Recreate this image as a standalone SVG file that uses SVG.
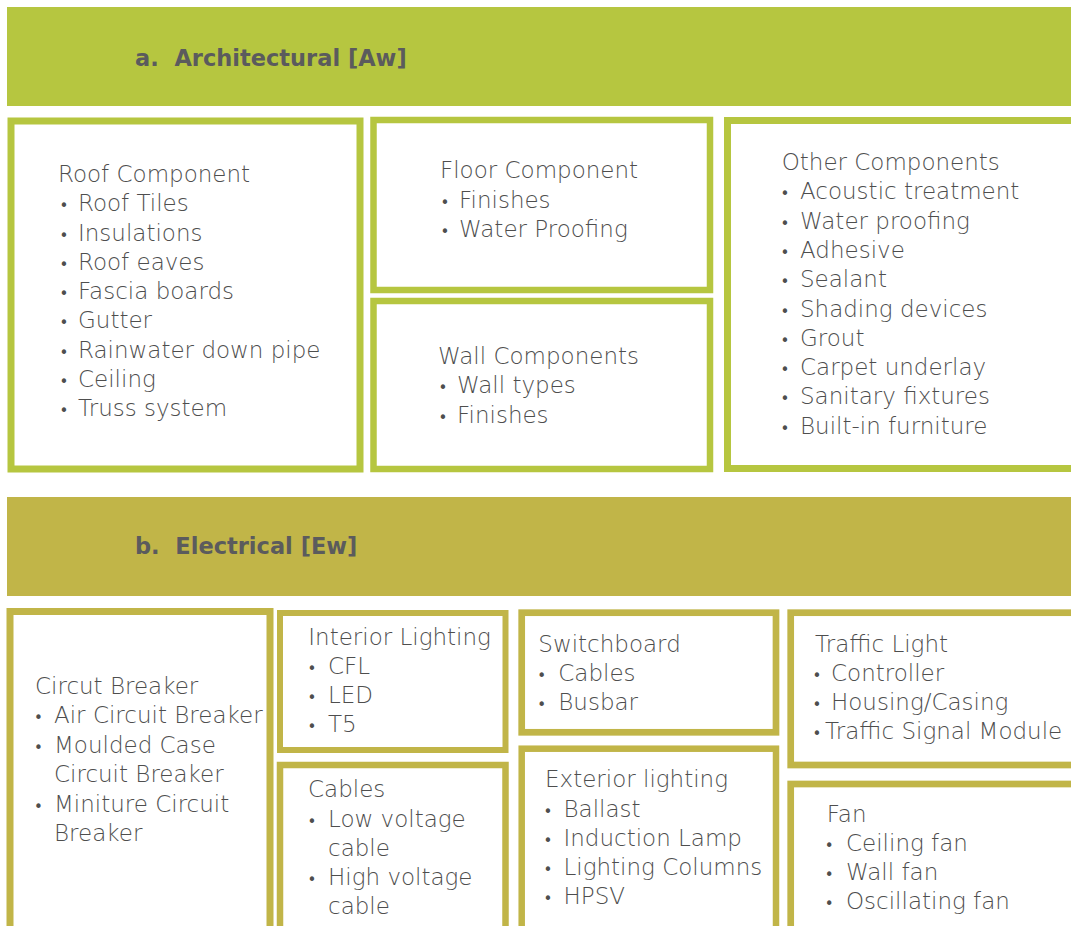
<svg xmlns="http://www.w3.org/2000/svg" width="1071" height="926" viewBox="0 0 1071 926">
<style>
.bg{fill:#ffffff}
.hdrA{fill:#b6c640}
.hdrE{fill:#c1b548}
.boxA{fill:#ffffff;stroke:#b6c640}
.boxE{fill:#ffffff;stroke:#c1b548}
.ht{font-family:"DejaVu Sans","Liberation Sans",sans-serif;font-weight:bold;font-size:22.5px;fill:#5b5b5d}
.t{font-family:"DejaVu Sans","Liberation Sans",sans-serif;font-weight:300;font-size:23px;fill:#4e4e4e}
.b{font-size:15px;font-weight:400}
</style>
<rect class="bg" x="0" y="0" width="1071" height="926"/>
<g id="connectors"></g>

<g id="header-architectural">
<rect class="hdrA" x="7" y="7" width="1080" height="99"/>
<text class="ht" x="135" y="66" xml:space="preserve">a.  Architectural [Aw]</text>
</g>

<g id="roof-component">
<rect class="boxA" x="11" y="121" width="349" height="348" stroke-width="7"/>
<text class="t" x="58" y="182">Roof Component</text>
<text class="t"><tspan class="b" x="59.5" y="211.3">•</tspan><tspan x="78" y="211.3">Roof Tiles</tspan></text>
<text class="t"><tspan class="b" x="59.5" y="240.5">•</tspan><tspan x="78" y="240.5">Insulations</tspan></text>
<text class="t"><tspan class="b" x="59.5" y="269.8">•</tspan><tspan x="78" y="269.8">Roof eaves</tspan></text>
<text class="t"><tspan class="b" x="59.5" y="299">•</tspan><tspan x="78" y="299">Fascia boards</tspan></text>
<text class="t"><tspan class="b" x="59.5" y="328.3">•</tspan><tspan x="78" y="328.3">Gutter</tspan></text>
<text class="t"><tspan class="b" x="59.5" y="357.5">•</tspan><tspan x="78" y="357.5">Rainwater down pipe</tspan></text>
<text class="t"><tspan class="b" x="59.5" y="386.8">•</tspan><tspan x="78" y="386.8">Ceiling</tspan></text>
<text class="t"><tspan class="b" x="59.5" y="416">•</tspan><tspan x="78" y="416">Truss system</tspan></text>
</g>

<g id="floor-component">
<rect class="boxA" x="373.5" y="120" width="336.5" height="170" stroke-width="6.5"/>
<text class="t" x="440" y="178">Floor Component</text>
<text class="t"><tspan class="b" x="440.5" y="207.5">•</tspan><tspan x="459" y="207.5">Finishes</tspan></text>
<text class="t"><tspan class="b" x="440.5" y="236.7">•</tspan><tspan x="459" y="236.7">Water Proofing</tspan></text>
</g>

<g id="wall-components">
<rect class="boxA" x="373.5" y="301" width="336.5" height="168" stroke-width="6.5"/>
<text class="t" x="438" y="364">Wall Components</text>
<text class="t"><tspan class="b" x="438.5" y="393.3">•</tspan><tspan x="457" y="393.3">Wall types</tspan></text>
<text class="t"><tspan class="b" x="438.5" y="422.5">•</tspan><tspan x="457" y="422.5">Finishes</tspan></text>
</g>

<g id="other-components">
<rect class="boxA" x="727.5" y="120.5" width="400" height="348" stroke-width="7"/>
<text class="t" x="781.7" y="170">Other Components</text>
<text class="t"><tspan class="b" x="780.5" y="199.3">•</tspan><tspan x="800" y="199.3">Acoustic treatment</tspan></text>
<text class="t"><tspan class="b" x="780.5" y="228.6">•</tspan><tspan x="800" y="228.6">Water proofing</tspan></text>
<text class="t"><tspan class="b" x="780.5" y="257.9">•</tspan><tspan x="800" y="257.9">Adhesive</tspan></text>
<text class="t"><tspan class="b" x="780.5" y="287.2">•</tspan><tspan x="800" y="287.2">Sealant</tspan></text>
<text class="t"><tspan class="b" x="780.5" y="316.5">•</tspan><tspan x="800" y="316.5">Shading devices</tspan></text>
<text class="t"><tspan class="b" x="780.5" y="345.8">•</tspan><tspan x="800" y="345.8">Grout</tspan></text>
<text class="t"><tspan class="b" x="780.5" y="375.1">•</tspan><tspan x="800" y="375.1">Carpet underlay</tspan></text>
<text class="t"><tspan class="b" x="780.5" y="404.4">•</tspan><tspan x="800" y="404.4">Sanitary fixtures</tspan></text>
<text class="t"><tspan class="b" x="780.5" y="433.7">•</tspan><tspan x="800" y="433.7">Built-in furniture</tspan></text>
</g>

<g id="header-electrical">
<rect class="hdrE" x="7" y="497" width="1080" height="99"/>
<text class="ht" x="135" y="554" xml:space="preserve">b.  Electrical [Ew]</text>
</g>

<g id="circuit-breaker">
<rect class="boxE" x="10" y="611.5" width="260" height="400" stroke-width="7"/>
<text class="t" x="35" y="694.3">Circut Breaker</text>
<text class="t"><tspan class="b" x="34" y="723.3">•</tspan><tspan x="54" y="723.3">Air Circuit Breaker</tspan></text>
<text class="t"><tspan class="b" x="34" y="752.7">•</tspan><tspan x="54" y="752.7">Moulded Case</tspan></text>
<text class="t" x="54" y="782">Circuit Breaker</text>
<text class="t"><tspan class="b" x="34" y="811.5">•</tspan><tspan x="54" y="811.5">Miniture Circuit</tspan></text>
<text class="t" x="54" y="840.7">Breaker</text>
</g>

<g id="interior-lighting">
<rect class="boxE" x="280" y="613" width="225.5" height="137" stroke-width="6"/>
<text class="t" x="308.3" y="645">Interior Lighting</text>
<text class="t"><tspan class="b" x="307.5" y="674">•</tspan><tspan x="328" y="674">CFL</tspan></text>
<text class="t"><tspan class="b" x="307.5" y="703.3">•</tspan><tspan x="328" y="703.3">LED</tspan></text>
<text class="t"><tspan class="b" x="307.5" y="732.3">•</tspan><tspan x="328" y="732.3">T5</tspan></text>
</g>

<g id="cables">
<rect class="boxE" x="280" y="765" width="225.5" height="300" stroke-width="6.5"/>
<text class="t" x="308" y="796.7">Cables</text>
<text class="t"><tspan class="b" x="307.5" y="826.5">•</tspan><tspan x="328" y="826.5">Low voltage</tspan></text>
<text class="t" x="328" y="855.7">cable</text>
<text class="t"><tspan class="b" x="307.5" y="885">•</tspan><tspan x="328" y="885">High voltage</tspan></text>
<text class="t" x="328" y="914">cable</text>
</g>

<g id="switchboard">
<rect class="boxE" x="521.7" y="612.7" width="254.3" height="119.6" stroke-width="6.7"/>
<text class="t" x="538.3" y="651.7">Switchboard</text>
<text class="t"><tspan class="b" x="537.2" y="681">•</tspan><tspan x="558.3" y="681">Cables</tspan></text>
<text class="t"><tspan class="b" x="537.2" y="710">•</tspan><tspan x="558.3" y="710">Busbar</tspan></text>
</g>

<g id="exterior-lighting">
<rect class="boxE" x="521.7" y="748.7" width="254.3" height="300" stroke-width="6.5"/>
<text class="t" x="545" y="786.7">Exterior lighting</text>
<text class="t"><tspan class="b" x="543.5" y="816.5">•</tspan><tspan x="563.5" y="816.5">Ballast</tspan></text>
<text class="t"><tspan class="b" x="543.5" y="845.7">•</tspan><tspan x="563.5" y="845.7">Induction Lamp</tspan></text>
<text class="t"><tspan class="b" x="543.5" y="875">•</tspan><tspan x="563.5" y="875">Lighting Columns</tspan></text>
<text class="t"><tspan class="b" x="543.5" y="904.2">•</tspan><tspan x="563.5" y="904.2">HPSV</tspan></text>
</g>

<g id="traffic-light">
<rect class="boxE" x="790.7" y="612.7" width="400" height="152.3" stroke-width="6.7"/>
<text class="t" x="815" y="651.7">Traffic Light</text>
<text class="t"><tspan class="b" x="812.5" y="681">•</tspan><tspan x="831" y="681">Controller</tspan></text>
<text class="t"><tspan class="b" x="812.5" y="710">•</tspan><tspan x="831" y="710">Housing/Casing</tspan></text>
<text class="t"><tspan class="b" x="812.5" y="738.5">•</tspan><tspan x="825" y="738.5">Traffic Signal Module</tspan></text>
</g>

<g id="fan">
<rect class="boxE" x="790.7" y="784" width="400" height="300" stroke-width="6.7"/>
<text class="t" x="826.7" y="821.7">Fan</text>
<text class="t"><tspan class="b" x="824.8" y="850.7">•</tspan><tspan x="846" y="850.7">Ceiling fan</tspan></text>
<text class="t"><tspan class="b" x="824.8" y="879.5">•</tspan><tspan x="846" y="879.5">Wall fan</tspan></text>
<text class="t"><tspan class="b" x="824.8" y="908.5">•</tspan><tspan x="846" y="908.5">Oscillating fan</tspan></text>
</g>
</svg>
